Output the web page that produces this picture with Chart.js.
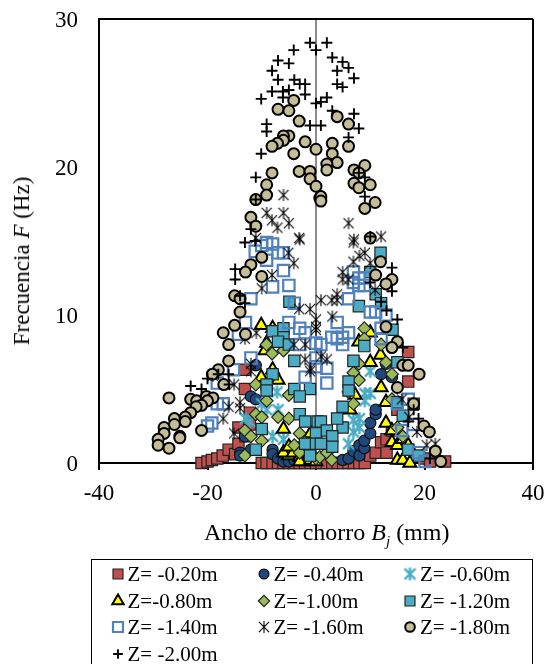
<!DOCTYPE html>
<html lang="es">
<head>
<meta charset="utf-8">
<title>Frecuencia vs ancho de chorro</title>
<script src="https://cdn.jsdelivr.net/npm/chart.js@4"></script>
<style>
  html, body { margin: 0; padding: 0; background: #fff; }
  #figura { position: relative; width: 546px; height: 664px; overflow: hidden; font-family: "Liberation Serif", serif; color: #000; }
  #grafico { position: absolute; left: 0; top: 0; }
  .tituloX { position: absolute; left: 204px; top: 519px; width: 244px; text-align: center; font-size: 24px; white-space: nowrap; }
  .tituloY { position: absolute; left: 22px; top: 261px; font-size: 23px; white-space: nowrap; transform: translate(-50%, -50%) rotate(-90deg); }
  .tituloX sub { font-size: 15px; line-height: 0; }
  #leyenda { position: absolute; left: 91px; top: 559px; width: 442px; height: 110px; box-sizing: border-box; border: 1.5px solid #000; }
  .item { position: absolute; height: 26px; line-height: 26px; font-size: 21px; white-space: nowrap; }
  .item canvas { position: absolute; left: -18px; top: 0; }
</style>
</head>
<body>
<div id="figura">
  <canvas id="grafico" width="546" height="664"></canvas>
  <div class="tituloX">Ancho de chorro <i>B<sub>j</sub></i> (mm)</div>
  <div class="tituloY">Frecuencia <i>F</i> (Hz)</div>
  <div id="leyenda"></div>
</div>
<script>
// === DATI: [Bj (mm), F (Hz)] ===
const z020 = [[-21.1,0],[-20,0.1],[-19.2,0.2],[-18.2,0.3],[-17.2,0.5],[-16.1,0.9],[-14.9,0.6],[-14.3,1.3],[-14.3,2.4],[-13.1,5],[-13.1,6.3],[-12.2,3.4],[-12.2,2.6],[-13,1.8],[-10,0],[-9.1,0],[-8,0],[-7,0],[-6,0],[-5,0],[-4,0],[-3,0],[-2,0],[-1,0],[0,0],[1,0],[2,0],[3,0],[4,0],[5,0],[6,0],[7,0],[8,0],[9,0],[10,0.5],[11,0.7],[12,1.4],[13,1.6],[13,0.7],[14,2.2],[15,3.6],[17,5.5],[17,7.5],[18,4],[17,0.9],[20,0.3],[21,0.1],[23.8,0.1]];
const z040 = [[-11.1,6.6],[-12,4.5],[-11.1,4.3],[-13.1,1.8],[-14,0.7],[-14,0.5],[-12,0.9],[-8,0.9],[-8,0.6],[-7,0.3],[-6,0.1],[-5,0.1],[-4,0.2],[4.9,0.2],[6,0.3],[6.9,0.8],[8,0.5],[8,1.2],[8.9,1],[8.9,1.5],[10,2],[10,2.7],[11,3.3],[11,3.6],[12,6],[12.9,6.7],[14,5.8]];
const z060 = [[-7.2,4.8],[-9.1,3.6],[-10,4],[-7,3.6],[-12.2,2.8],[-13,3],[-6,1.6],[-8,1.8],[10,6.2],[9,4.7],[10,4.7],[9,4.2],[8,3],[6.9,2.9],[8,2.4],[6.9,2.1],[6,1.3]];
const z080 = [[-10.1,9.3],[-8,9.1],[-9.1,8.1],[-9.4,7.6],[-10.1,5.8],[-8,6.3],[-7,5.6],[-6,2.3],[-5.1,0.5],[-6,0.7],[-4.2,0.7],[-3,0.4],[-2,0.1],[-1,2],[-2,0.9],[-5,1.1],[-3,0.1],[-1,0.2],[0,0.1],[7.9,8.2],[10,8.8],[11.9,7.3],[10,6.8],[12,5.1],[12.9,4.1],[12.9,2.7],[14,2.2],[14,1.4],[15,1.2],[16,1.6],[15,0.2],[16,0.2],[17,1.2],[17.3,0],[7.2,4.6],[6.3,3.6]];
const z100 = [[-9.1,8],[-8.1,7.4],[-6,7.6],[-11.1,5.3],[-5,4.6],[-9.1,4.2],[-11.1,3.3],[-10,3.1],[-7,3.1],[-5,3],[-13.1,2.2],[-12,1.8],[-10,1.5],[-13.1,0.5],[-3,2],[-4,1.2],[-2.1,1.4],[-3,0.7],[-1,1.2],[0,0.3],[0.7,0.4],[2,0.7],[2.9,0.2],[8.9,9.1],[8.9,8.4],[12,8],[12.9,6.8],[7.9,6.7],[6.9,6.1],[7.9,5.6],[14,6],[6.9,4],[6,4.8],[14,4.3],[15,2.4],[16,1.8]];
const z120 = [[-4.9,10.9],[-8,8.9],[-6,9.1],[-6,8.5],[-7,8.2],[-5,8],[-4,6.9],[-8,6],[-9.1,5.3],[-9.1,4.9],[-4,5],[-1.1,5],[-3,4.5],[-3,3.3],[-2,2.8],[-10,2.3],[-11.1,0.9],[0.3,2.8],[0,2],[-2,1.3],[-1.1,0.5],[0,1.3],[11.9,14.2],[10,12.9],[11,11.4],[7.9,10.6],[12,10.8],[14.1,9],[8.9,7.9],[15,6.8],[6.9,6.9],[6,5.5],[6,4.9],[4.9,3.8],[4.9,2.4],[3.9,3],[0.9,2.8],[2,2.2],[3,1.8],[3,1.1],[0.9,1.3],[16,3.2],[15,4.1],[17,0.9],[19,0.5]];
const z140 = [[-9.1,14.9],[-11.2,14.3],[-10,14.7],[-8,14.8],[-7,14.2],[-6,14.2],[-9.1,13.7],[-6,13],[-5,12],[-8,11.9],[-4,10.8],[-12,11.1],[-13,9.5],[-5,9.5],[-3,9.1],[-2,8.8],[-14.3,8.7],[0,8.1],[-3,8],[-12,7.1],[-15.2,6.3],[0,7.1],[-2,5.8],[-18.2,5.4],[-17.1,4],[-18.2,4],[-19.2,2.7],[-20,2.5],[6.9,12.9],[6.9,12.2],[7.9,12.5],[8.9,12.5],[7.9,12],[8.9,12],[6,11.1],[10,10.2],[11,10.2],[12.9,10],[12,9.1],[12,8.4],[3.9,9.5],[6,8.8],[2.9,8.5],[3.9,8.4],[4.9,8.5],[4.9,8],[0.9,8],[2,6.4],[2,5.4],[0,6.5],[15,4],[17,4.3],[15.8,2.2],[18,2.6],[18.9,0.7],[20.1,0.1]];
const z160 = [[-6,18.1],[-9.1,16.9],[-6,16.9],[-8.1,16.4],[-7.1,15.9],[-5,16.2],[-3.1,15.2],[-11.1,15.2],[6,16.2],[7,15.1],[12,15.3],[-3,15.1],[-5.1,14.2],[-4.1,13.5],[-8.1,12.7],[-10,11.8],[-1.1,10.4],[-3.1,10.4],[0,9.7],[0,9.2],[-11,8.8],[-13.1,8.4],[-4.1,8],[-2,8],[-2,7],[-1.1,6.2],[-12,6.7],[-12,6.2],[-15.1,5.3],[-14,4.1],[-14,3.7],[-16.1,3.8],[-17.1,3],[-15.1,2],[-19,5.9],[6.9,14.9],[9,14.2],[8,14],[6.9,13.6],[4.9,12.9],[4.9,12.4],[6,12.4],[10,13.5],[10.9,11.7],[3.9,11.4],[2.9,11],[0.9,11],[3.9,11],[3,9.9],[0,9],[0.9,7.2],[2,7],[-1,6.4],[15.8,4.3],[17.2,3.1],[18.6,2.1],[22,1.3],[20.4,1.2]];
const z180 = [[-4.1,24.5],[-7,23.9],[-5,23.8],[-3.1,23.1],[-2,21.7],[-5,22.1],[-6,22.1],[-6,21.8],[-7.1,21.6],[-8.1,21.4],[-4.1,20.9],[0,21.2],[-3.1,19.7],[-1.1,19.7],[-1.1,19.2],[0,18.7],[0.7,17.9],[-8.1,19.6],[-9.1,18.8],[-9.1,18.1],[-11.1,17.8],[-12,16.6],[-11.1,16],[3.9,23.4],[6,22.9],[6,21.4],[3,21.6],[3,20.9],[3.9,20.3],[2,20.2],[2,19.8],[0.9,18],[0.9,17.7],[9,20.1],[7,19.8],[7.9,19.6],[7,18.9],[10,18.8],[7.9,18.6],[10.9,17.6],[9,17.2],[10,15.2],[-10,13.9],[-12,13.4],[-13,12.9],[-10,12.6],[-15,11.3],[-14,11.1],[-14,10.2],[-15,9.3],[-17.1,8.8],[-13,8.7],[-16.1,8],[-16.1,6.9],[-18,6.3],[-19.1,6],[-17,5.3],[-27.1,4.4],[-23.1,4.3],[-22,4.2],[-20.2,4.5],[-19,4.4],[-20,4.2],[-21.1,3.9],[-22.1,3.8],[-23.1,3.4],[-24.1,3.1],[-24.1,2.8],[-26.1,3],[-26.1,2.6],[-28,2.4],[-28,2],[-25.1,1.8],[-25.1,1.7],[-29.1,1.6],[-29.1,1.2],[-27.1,1],[-21.1,2.2],[11.9,13.6],[11,12.7],[14,12.4],[12.9,12.1],[12.9,9.2],[15,8.2],[14,7.8],[16,6.6],[17,6.6],[19,6],[15,5.1],[18,4],[19.9,2.5],[20.9,2.1],[22,0.8],[23,0.1]];
const z200 = [[-1.1,28.4],[0,27.9],[-4.1,27.9],[-7,27.2],[-5,27],[-8.1,26.5],[-7,25.9],[-4,25.9],[-3,25.6],[-2,25.6],[-8.1,25.1],[-6.1,25.1],[-5,25.2],[-6.1,24.7],[-2,24.9],[-10.1,24.6],[0,24.3],[-9.1,22.9],[-9.1,22.4],[-1.1,22.8],[-10.1,20.9],[-11.1,19.3],[-11.1,17.8],[-12,15.8],[2,28.4],[3,27.4],[4.9,27.1],[6,26.7],[3.9,26.5],[7,26],[3.9,25.6],[4.9,25.4],[2,24.7],[0.9,24.4],[3,23.8],[7,23.6],[7.9,22.6],[0.9,22.8],[6,22],[7.9,19.6],[9,19.3],[9,18],[10,15.3],[-13.1,14.9],[-11.2,15],[-14.9,13.1],[-14.9,12.4],[-14,11.3],[-13.1,10.8],[-16.1,6],[-18,6],[-20,5.7],[-16,5.3],[-21.1,5],[-23.1,5.2],[14,13.2],[10,12.2],[14,11.6],[12,10.9],[13,10.3],[15,9.7],[16,7.8],[18,3.6],[17,2.8],[18.9,3],[21,0.3]];

const etichette = ['Z= -0.20m', 'Z= -0.40m', 'Z= -0.60m', 'Z=-0.80m', 'Z=-1.00m', 'Z= -1.20m', 'Z= -1.40m', 'Z= -1.60m', 'Z= -1.80m', 'Z= -2.00m'];
const serie = [z020, z040, z060, z080, z100, z120, z140, z160, z180, z200];
const xTicks = [-40, -20, 0, 20, 40];
const yTicks = [0, 10, 20, 30];

// asterisco a 6 braccia come quello di Excel (lo "star" di Chart.js ne ha 8)
function creaAsterisco(colore, spessore, lato) {
  const c = document.createElement('canvas');
  c.width = lato + 2; c.height = lato + 2;
  const g = c.getContext('2d');
  const m = lato / 2 + 1, d = lato * 0.42;
  g.strokeStyle = colore;
  g.lineWidth = spessore;
  g.beginPath();
  g.moveTo(m, 1); g.lineTo(m, lato + 1);
  g.moveTo(m - d, m - d); g.lineTo(m + d, m + d);
  g.moveTo(m + d, m - d); g.lineTo(m - d, m + d);
  g.stroke();
  return c;
}

const stili = [
  { pointStyle: 'rect', radius: 8, backgroundColor: '#C0504D', borderColor: '#222', borderWidth: 1.2 },
  { pointStyle: 'circle', radius: 5.6, backgroundColor: '#1F497D', borderColor: '#111', borderWidth: 1.2 },
  { pointStyle: creaAsterisco('#4BACC6', 2.4, 13), radius: 7, backgroundColor: '#4BACC6', borderColor: '#4BACC6', borderWidth: 2 },
  { pointStyle: 'triangle', radius: 7.5, backgroundColor: '#FFFF00', borderColor: '#000', borderWidth: 2 },
  { pointStyle: 'rectRot', radius: 6.4, backgroundColor: '#9BBB59', borderColor: '#222', borderWidth: 1.2 },
  { pointStyle: 'rect', radius: 8, backgroundColor: '#4BACC6', borderColor: '#222', borderWidth: 1.2 },
  { pointStyle: 'rect', radius: 8, backgroundColor: 'rgba(0,0,0,0)', borderColor: '#4F81BD', borderWidth: 2.2 },
  { pointStyle: creaAsterisco('#000', 1.1, 12), radius: 7, backgroundColor: '#000', borderColor: '#000', borderWidth: 1 },
  { pointStyle: 'circle', radius: 5.5, backgroundColor: '#C4BD97', borderColor: '#000', borderWidth: 2 },
  { pointStyle: 'cross', radius: 5.5, backgroundColor: '#000', borderColor: '#000', borderWidth: 1.9 }
];

// ordine inverso: le ultime serie stanno sopra, come in Excel
const datasets = serie.map((punti, i) => ({
  label: etichette[i],
  data: punti.map(p => ({ x: p[0], y: p[1] })),
  showLine: false,
  clip: false,
  order: serie.length - i,
  pointStyle: stili[i].pointStyle,
  pointRadius: stili[i].radius,
  pointBackgroundColor: stili[i].backgroundColor,
  pointBorderColor: stili[i].borderColor,
  pointBorderWidth: stili[i].borderWidth
}));

const fontAssi = { family: '"Liberation Serif", serif', size: 23 };

// le cifre con baseline "middle" restano alte di 2px: le abbasso una volta sola
const abbassaEtichetteY = {
  id: 'abbassaEtichetteY',
  afterLayout(chart) {
    const s = chart.scales.y;
    s.getLabelItems(chart.chartArea).forEach(it => { it.options.translation[1] += 2; });
  }
};

new Chart(document.getElementById('grafico'), {
  type: 'scatter',
  data: { datasets },
  plugins: [abbassaEtichetteY],
  options: {
    responsive: false,
    animation: false,
    layout: { padding: { left: 0, top: 19, right: 13, bottom: 0 } },
    plugins: { legend: { display: false }, tooltip: { enabled: false } },
    scales: {
      x: {
        type: 'linear',
        min: -40, max: 40,
        afterBuildTicks: s => { s.ticks = xTicks.map(v => ({ value: v })); },
        // margini fissi: l'area del grafico resta dove serve
        afterFit: s => { s.height = 201; s.paddingLeft = 0; s.paddingRight = 0; },
        ticks: { color: '#000', font: fontAssi, maxRotation: 0, padding: 10 },
        border: { color: '#000', width: 2 },
        grid: {
          tickLength: 7,
          tickColor: '#000',
          lineWidth: 2,
          color: c => {
            if (c.tick.value === 0) return '#8C8C8C';
            if (c.tick.value === 40) return '#000';
            return 'rgba(0,0,0,0)';
          }
        }
      },
      y: {
        min: 0, max: 30,
        afterBuildTicks: s => { s.ticks = yTicks.map(v => ({ value: v })); },
        afterFit: s => { s.width = 99; s.paddingTop = 0; s.paddingBottom = 0; },
        ticks: { color: '#000', font: fontAssi, padding: 21 },
        border: { color: '#000', width: 2 },
        grid: {
          drawTicks: false,
          lineWidth: 2,
          color: c => (c.tick.value === 30 ? '#000' : 'rgba(0,0,0,0)')
        }
      }
    }
  }
});

// Leyenda a griglia: colonne fisse, marcadores con lo stesso drawPoint del grafico
const colonneLeyenda = [35.5, 181.5, 328];
const rigaLeyenda = 26.6;
const leyenda = document.getElementById('leyenda');
etichette.forEach((testo, i) => {
  const item = document.createElement('div');
  item.className = 'item';
  item.style.left = colonneLeyenda[i % 3] + 'px';
  item.style.top = (1 + Math.floor(i / 3) * rigaLeyenda) + 'px';
  item.textContent = testo;
  const mini = document.createElement('canvas');
  mini.width = 18; mini.height = 26;
  const g = mini.getContext('2d');
  g.fillStyle = stili[i].backgroundColor;
  g.strokeStyle = stili[i].borderColor;
  g.lineWidth = stili[i].borderWidth;
  Chart.helpers.drawPoint(g, { pointStyle: stili[i].pointStyle, radius: stili[i].radius * 0.88, borderWidth: stili[i].borderWidth, rotation: 0 }, 8, 13);
  item.appendChild(mini);
  leyenda.appendChild(item);
});
</script>
</body>
</html>
